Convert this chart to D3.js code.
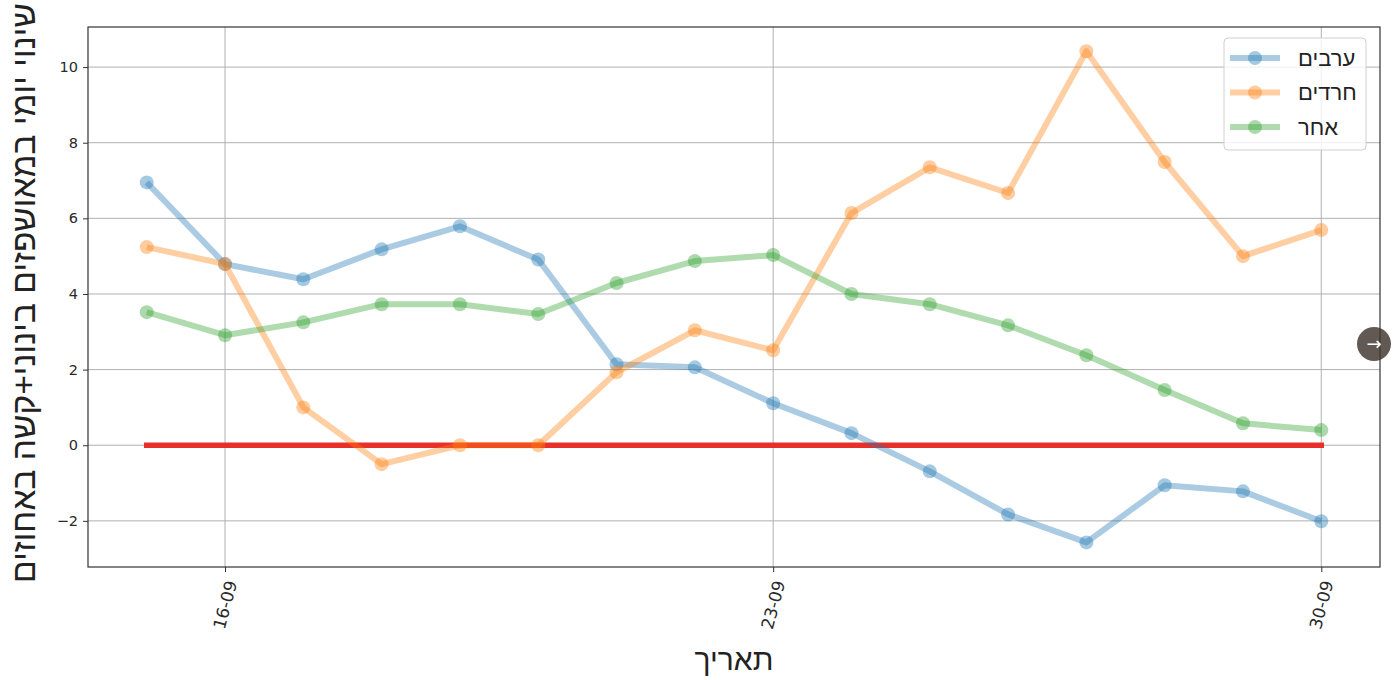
<!DOCTYPE html>
<html>
<head>
<meta charset="utf-8">
<script src="https://cdn.jsdelivr.net/npm/d3@7"></script>
<style>
  body { margin: 0; background: #fff; }
  svg { display: block; }
</style>
</head>
<body>
<svg id="chart" width="1400" height="680"></svg>
<script>
// ---- data ----
const dates = ["2020-09-15","2020-09-16","2020-09-17","2020-09-18","2020-09-19","2020-09-20","2020-09-21","2020-09-22",
               "2020-09-23","2020-09-24","2020-09-25","2020-09-26","2020-09-27","2020-09-28","2020-09-29","2020-09-30"];
const seriesNames = ["ערבים", "חרדים", "אחר"];
const arabs    = [6.95, 4.79, 4.39, 5.18, 5.79, 4.91, 2.14, 2.06, 1.11, 0.32, -0.69, -1.83, -2.57, -1.06, -1.22, -2.01];
const haredim  = [5.24, 4.79, 1.00, -0.50, 0.00, 0.00, 1.93, 3.04, 2.51, 6.14, 7.35, 6.67, 10.42, 7.49, 5.00, 5.69];
const other    = [3.52, 2.91, 3.25, 3.73, 3.73, 3.47, 4.29, 4.87, 5.03, 4.00, 3.73, 3.17, 2.38, 1.46, 0.58, 0.40];
const baseline = [0, 0, 0, 0, 0, 0, 0, 0, 0, 0, 0, 0, 0, 0, 0, 0];
const yTicks = [-2, 0, 2, 4, 6, 8, 10];
const xTickDates = ["2020-09-16", "2020-09-23", "2020-09-30"];
const yLabel = "שינוי יומי במאושפזים בינוני+קשה באחוזים";
const xLabel = "תאריך";
const colors = ["#1f77b4", "#ff7f0e", "#2ca02c"];

// ---- layout ----
const L = 88, R = 1380, T = 27, B = 567;
const parse = d3.timeParse("%Y-%m-%d");
const fmt = d3.timeFormat("%d-%m");
const xDates = dates.map(parse);
const day = 864e5;
const x = d3.scaleTime()
  .domain([new Date(+xDates[0] - 0.75 * day), new Date(+xDates[xDates.length - 1] + 0.75 * day)])
  .range([L, R]);
const y = d3.scaleLinear().domain([-3.22, 11.06]).range([B, T]);

const svg = d3.select("#chart");
const tickFont = "'DejaVu Sans', sans-serif";
const hebFont = "'Liberation Sans', 'DejaVu Sans', sans-serif";

// grid
const g = svg.append("g");
g.selectAll("line.hg").data(yTicks).enter().append("line")
  .attr("x1", L).attr("x2", R).attr("y1", d => y(d)).attr("y2", d => y(d))
  .attr("stroke", "#b0b0b0").attr("stroke-width", 1);
g.selectAll("line.vg").data(xTickDates.map(parse)).enter().append("line")
  .attr("x1", d => x(d)).attr("x2", d => x(d)).attr("y1", T).attr("y2", B)
  .attr("stroke", "#b0b0b0").attr("stroke-width", 1);

// axes
const yAxis = d3.axisLeft(y).tickValues(yTicks).tickSize(5).tickPadding(5)
  .tickFormat(d => d < 0 ? "\u2212" + Math.abs(d) : d);
const ya = svg.append("g").attr("transform", `translate(${L},0)`).call(yAxis);
ya.select(".domain").remove();
ya.selectAll("text").attr("font-family", tickFont).attr("font-size", 14.5).attr("fill", "#2a2a2a");
ya.selectAll("line").attr("stroke", "#333");

const xAxis = d3.axisBottom(x).tickValues(xTickDates.map(parse)).tickSize(5).tickFormat(fmt);
const xa = svg.append("g").attr("transform", `translate(0,${B})`).call(xAxis);
xa.select(".domain").remove();
xa.selectAll("line").attr("stroke", "#333");
xa.selectAll("text")
  .attr("font-family", tickFont).attr("font-size", 17).attr("fill", "#2a2a2a")
  .attr("text-anchor", "end").attr("dy", "0.35em")
  .attr("transform", "translate(6,14) rotate(-75)")
  .attr("y", 0).attr("x", 0);

// zero reference line
const line = d3.line().x((d, i) => x(xDates[i])).y(d => y(d));
svg.append("path").datum(baseline).attr("d", line)
  .attr("fill", "none").attr("stroke", "#e8302a").attr("stroke-width", 5.5)
  .attr("stroke-linecap", "square");

// series
const allSeries = [arabs, haredim, other];
allSeries.forEach((vals, k) => {
  const sg = svg.append("g");
  sg.append("path").datum(vals).attr("d", line)
    .attr("fill", "none").attr("stroke", colors[k]).attr("stroke-opacity", 0.38)
    .attr("stroke-width", 6).attr("stroke-linejoin", "round");
  sg.selectAll("circle").data(vals).enter().append("circle")
    .attr("cx", (d, i) => x(xDates[i])).attr("cy", d => y(d)).attr("r", 7)
    .attr("fill", colors[k]).attr("fill-opacity", 0.4);
});

// frame
svg.append("rect").attr("x", L).attr("y", T).attr("width", R - L).attr("height", B - T)
  .attr("fill", "none").attr("stroke", "#333").attr("stroke-width", 1.2);

// legend
const lg = svg.append("g");
lg.append("rect").attr("x", 1224).attr("y", 38).attr("width", 142).attr("height", 112)
  .attr("rx", 4).attr("fill", "#fff").attr("fill-opacity", 0.8).attr("stroke", "#d0d0d0");
seriesNames.forEach((name, k) => {
  const cy = 58 + k * 34.5;
  lg.append("line").attr("x1", 1230).attr("x2", 1280).attr("y1", cy).attr("y2", cy)
    .attr("stroke", colors[k]).attr("stroke-opacity", 0.38).attr("stroke-width", 6);
  lg.append("circle").attr("cx", 1255).attr("cy", cy).attr("r", 7)
    .attr("fill", colors[k]).attr("fill-opacity", 0.4);
  lg.append("text").attr("x", 1298).attr("y", cy).attr("dy", "0.35em")
    .attr("font-family", hebFont).attr("font-size", 22)
    .attr("fill", "#222").attr("text-anchor", "start").text(name);
});

// axis labels
svg.append("text").attr("x", (L + R) / 2).attr("y", 670)
  .attr("text-anchor", "middle").attr("font-family", hebFont)
  .attr("font-size", 30).attr("fill", "#222").text(xLabel);
svg.append("text").attr("transform", `translate(35,${(T + B) / 2 - 4}) rotate(-90)`)
  .attr("text-anchor", "middle").attr("font-family", hebFont)
  .attr("font-size", 33.5).attr("fill", "#222").text(yLabel);

// overlay navigation button (present in the reference screenshot)
svg.append("circle").attr("cx", 1374).attr("cy", 344).attr("r", 17)
  .attr("fill", "#3f3430").attr("fill-opacity", 0.82);
svg.append("text").attr("x", 1374).attr("y", 344).attr("dy", "0.35em").attr("text-anchor", "middle")
  .attr("font-family", "'DejaVu Sans', sans-serif").attr("font-size", 18).attr("fill", "#fff").text("→");
</script>
</body>
</html>
